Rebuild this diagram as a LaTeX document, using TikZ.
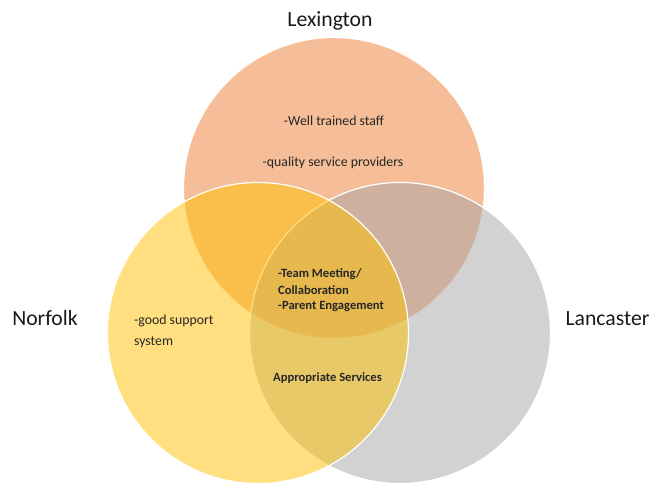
\documentclass[tikz,border=0pt]{standalone}
\usepackage{fontspec}
\setmainfont{Carlito}
\definecolor{lexc}{HTML}{ED7D31}
\definecolor{lanc}{HTML}{A5A5A5}
\definecolor{norc}{HTML}{FFC000}
\definecolor{txt}{HTML}{262626}
\definecolor{ttl}{HTML}{1A1A1A}
\begin{document}
\begin{tikzpicture}[x=1pt,y=-1pt,
  venn/.style={circle, minimum size=301pt, inner sep=0pt, outer sep=0pt,
    fill opacity=0.5, draw=white, line width=1.2pt},
  ttlstyle/.style={font=\fontsize{21.7}{26}\selectfont, text=ttl, inner sep=0pt, anchor=base},
  bodystyle/.style={font=\fontsize{13.8}{17}\selectfont, text=txt, inner sep=0pt},
  boldstyle/.style={font=\bfseries\fontsize{12.6}{16}\selectfont, text=txt, inner sep=0pt}]
\useasboundingbox (0,0) rectangle (653,485);
% circles (drawing order matters for the blended colours)
\node[venn, fill=lexc] (lex) at (334,188) {};
\node[venn, fill=lanc] (lan) at (400,333) {};
\node[venn, fill=norc] (nor) at (258,333) {};
% titles
\node[ttlstyle] (tlex) at (330,26) {Lexington};
\node[ttlstyle] (tnor) at (45,325) {Norfolk};
\node[ttlstyle] (tlan) at (607.5,325) {Lancaster};
% Lexington only
\node[bodystyle, anchor=base] (l1) at (334,125) {-Well trained staff};
\node[bodystyle, anchor=base] (l2) at (333,166) {-quality service providers};
% Norfolk only
\node[bodystyle, anchor=base west] (n1) at (134,324) {-good support};
\node[bodystyle, anchor=base west] (n2) at (134,345) {system};
% centre
\node[boldstyle, anchor=base west] (c1) at (278,277) {-Team Meeting/};
\node[boldstyle, anchor=base west] (c2) at (278,294) {Collaboration};
\node[boldstyle, anchor=base west] (c3) at (278,309) {-Parent Engagement};
% Norfolk and Lancaster
\node[boldstyle, anchor=base] (a1) at (327.5,381) {Appropriate Services};
\end{tikzpicture}
\end{document}
